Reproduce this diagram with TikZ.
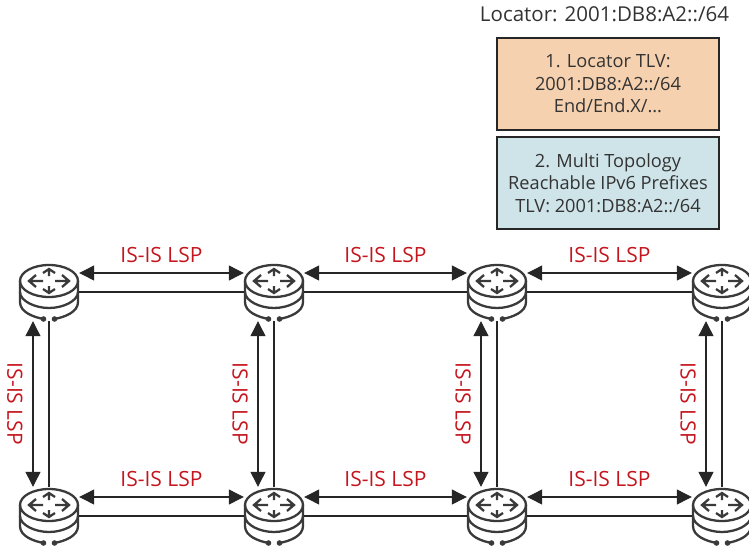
\documentclass[tikz,border=0pt]{standalone}
\usepackage{fontspec}
\setmainfont{Open Sans}
\usepackage{xcolor}
\usetikzlibrary{arrows.meta}
\definecolor{lspred}{HTML}{C5161F}
\definecolor{inktext}{HTML}{333333}
\definecolor{iconink}{HTML}{3A3A3A}
\definecolor{tlvorange}{HTML}{F6D1AF}
\definecolor{tlvblue}{HTML}{CFE4E9}

\newcommand{\router}[3]{%
  \node[routerbox] (#1) at (#2,#3) {};
  \begin{scope}[shift={(#2,#3)}, iconline]
    \draw (0,-11) ellipse [x radius=29, y radius=16];
    \draw (-29,-11) -- (-29,0) .. controls (-29,9) and (-14,16) .. (0,16) .. controls (14,16) and (29,9) .. (29,0) -- (29,-11);
    \draw (-29,0) -- (-29,10) .. controls (-29,20) and (-16,25) .. (-5.5,27);
    \draw (29,0) -- (29,10) .. controls (29,20) and (16,25) .. (5.5,27);
    \fill (-5.5,27) circle (2.8);
    \fill (5.5,27) circle (2.8);
    % arrows on the top face
    \draw[arrowglyph] (-6,-11) -- (-20,-11) (-13,-17) -- (-20,-11) -- (-13,-5);
    \draw[arrowglyph] (6,-11) -- (20,-11) (13,-17) -- (20,-11) -- (13,-5);
    \draw[arrowglyph] (0,-16) -- (0,-23) (-6,-19) -- (0,-23) -- (6,-19);
    \draw[arrowglyph] (0,-6) -- (0,1) (-6,-3) -- (0,1) -- (6,-3);
  \end{scope}}

\tikzset{
  routerbox/.style={inner sep=0, minimum width=60, minimum height=58},
  iconline/.style={draw=iconink, fill=iconink, line width=2.3, x=1pt, y=-1pt},
  arrowglyph/.style={line width=2.3, fill=none, line join=miter},
  lsp/.style={{Triangle[length=15pt,width=15pt]}-{Triangle[length=15pt,width=15pt]}, line width=1.2pt, draw=black!85, fill=black!85},
  link/.style={line width=1.2pt, draw=black!85},
  lsplabel/.style={text=lspred, font=\fontsize{21}{24}\selectfont, inner sep=1pt},
  tlvbox/.style={draw=black!85, line width=1.3pt, minimum width=222, minimum height=92, inner sep=0, align=center, text=inktext, font=\fontsize{18.2}{22.5}\selectfont}
}

\begin{document}
\begin{tikzpicture}[x=1pt, y=-1pt]
  \useasboundingbox (0,0) rectangle (749,549);

  \node[text=inktext, font=\fontsize{20.5}{24}\selectfont, inner sep=0] (locator) at (604.5,14) {Locator: 2001:DB8:A2::/64};
  \node[tlvbox, fill=tlvorange] (tlvone) at (608,84) {1. Locator TLV:\\2001:DB8:A2::/64\\End/End.X/...};
  \node[tlvbox, fill=tlvblue] (tlvtwo) at (608,183) {2. Multi Topology\\Reachable IPv6 Prefixes\\TLV: 2001:DB8:A2::/64};

  % routers
  \foreach \col/\xpos in {1/49, 2/274, 3/497, 4/722} {
    \router{top\col}{\xpos}{292}
    \router{bot\col}{\xpos}{516}
  }

  % horizontal links
  \foreach \a/\b in {1/2, 2/3, 3/4} {
    \draw[link] (top\a.east) -- (top\b.west);
    \draw[lsp] ([yshift=19pt]top\a.east) -- node[lsplabel, yshift=18pt] (lsptop\a) {IS-IS LSP} ([yshift=19pt]top\b.west);
    \draw[link] (bot\a.east) -- (bot\b.west);
    \draw[lsp] ([yshift=19pt]bot\a.east) -- node[lsplabel, yshift=18pt] (lspbot\a) {IS-IS LSP} ([yshift=19pt]bot\b.west);
  }

  % vertical links
  \foreach \col in {1,2,3,4} {
    \draw[link] (top\col.south) -- (bot\col.north);
    \draw[lsp] ([xshift=-16pt]top\col.south) -- node[lsplabel, rotate=-90, yshift=-18pt] (lspv\col) {IS-IS LSP} ([xshift=-16pt]bot\col.north);
  }
\end{tikzpicture}
\end{document}
